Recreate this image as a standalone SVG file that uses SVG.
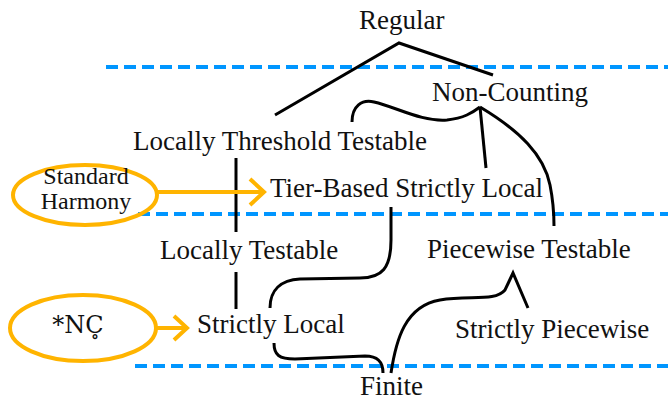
<svg xmlns="http://www.w3.org/2000/svg" width="668" height="396" viewBox="0 0 668 396">
  <style>
    text { font-family: "Liberation Serif", "DejaVu Serif", serif; font-size: 27px; fill: #111; }
    .pattern { font-size: 24px; }
    .mark { font-family: "DejaVu Serif", "Liberation Serif", serif; font-size: 24px; }
    .band { stroke: #0096ff; stroke-width: 4; stroke-dasharray: 12 6; fill: none; }
    .edge { stroke: #000; stroke-width: 3; fill: none; stroke-linejoin: miter; }
    .ext { stroke: #ffb400; stroke-width: 4; fill: none; }
  </style>
  <rect width="668" height="396" fill="#fff"/>

  <!-- class boundaries -->
  <g id="bands">
    <line class="band" x1="106" y1="67" x2="668" y2="67"/>
    <line class="band" x1="138" y1="214" x2="668" y2="214"/>
    <line class="band" x1="135" y1="366" x2="668" y2="366"/>
  </g>

  <!-- inclusion connectors -->
  <g id="connectors">
    <polyline class="edge" points="275,115 399,43 493,75"/>
    <path class="edge" d="M352,122 C352,106 362,99 374,102 C396,107 422,122 447,120 C464,118 472,113 480,107"/>
    <line class="edge" x1="480" y1="107" x2="486" y2="168"/>
    <path class="edge" d="M480,107 C520,131 544,155 550,185 C553,200 554,214 554,226"/>
    <line class="edge" x1="236" y1="158" x2="236" y2="232"/>
    <line class="edge" x1="236" y1="272" x2="236" y2="309"/>
    <path class="edge" d="M391,207 L391,240 C391,268 382,278 360,278 L300,279 C281,280 270,290 270,308"/>
    <path class="edge" d="M274,343 C274,355 279,359 295,359 L365,356 C378,356 383,362 383,373"/>
    <path class="edge" d="M391,373 C396,340 405,306 440,300 C470,295 495,302 505,290 L513,273 L528,308"/>
  </g>

  <g id="regular"><text x="359" y="29">Regular</text></g>
  <g id="non-counting"><text x="432" y="101">Non-Counting</text></g>
  <g id="ltt"><text x="133" y="150">Locally Threshold Testable</text></g>
  <g id="tsl"><text x="270" y="197">Tier-Based Strictly Local</text></g>
  <g id="lt"><text x="160" y="259">Locally Testable</text></g>
  <g id="pt"><text x="427" y="258">Piecewise Testable</text></g>
  <g id="sl"><text x="197" y="333">Strictly Local</text></g>
  <g id="sp"><text x="455" y="338">Strictly Piecewise</text></g>
  <g id="finite"><text x="360" y="395">Finite</text></g>

  <!-- phonological patterns -->
  <g id="standard-harmony">
    <ellipse class="ext" cx="85" cy="195" rx="72" ry="30"/>
    <text class="pattern" text-anchor="middle"><tspan x="86" y="184">Standard</tspan><tspan x="86" y="209">Harmony</tspan></text>
  </g>
  <g id="nc-constraint">
    <ellipse class="ext" cx="83" cy="328" rx="73" ry="33"/>
    <text class="mark" x="78" y="333" text-anchor="middle">*NC̥</text>
  </g>
  <g id="pattern-arrows">
    <line class="ext" x1="157" y1="192" x2="263" y2="192"/>
    <polyline class="ext" points="250,179 264,192 250,205"/>
    <line class="ext" x1="156" y1="328" x2="186" y2="328"/>
    <polyline class="ext" points="174,316 187,328 174,340"/>
  </g>
</svg>
